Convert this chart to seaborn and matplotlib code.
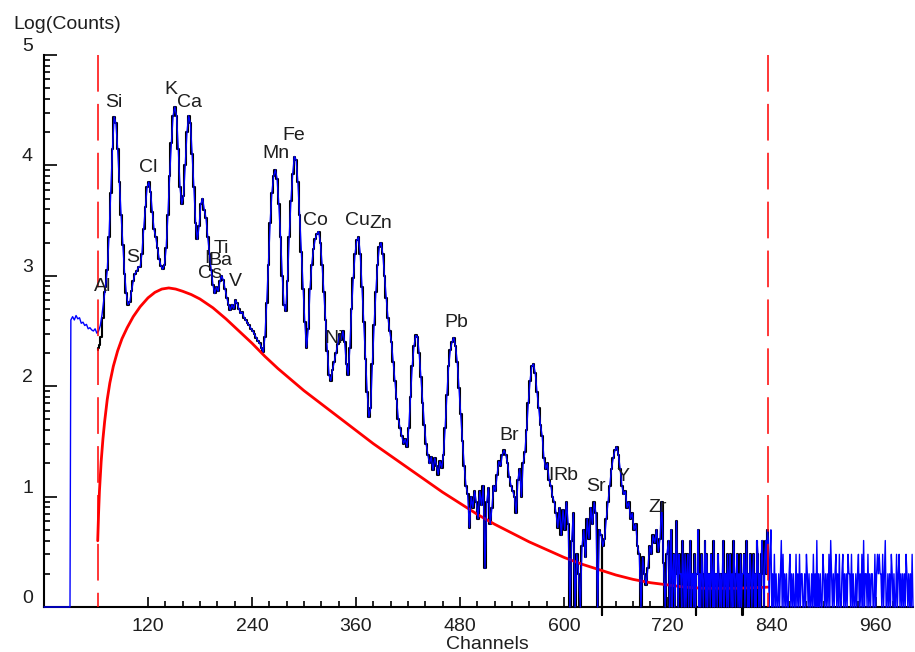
import numpy as np
import matplotlib
matplotlib.use("Agg")
import matplotlib.pyplot as plt
import seaborn as sns

# ---------------------------------------------------------------------------
# Spectrum data (log10 of counts per channel)
# ---------------------------------------------------------------------------
# channels 0..30 carry no counts
empty_ch = [0, 30]
empty_log = [0.0, 0.0]

# measured spectrum, odd channels 31, 33, ..., 719
spec_start = 31
spec_step = 2
spec_log = [
    2.60, 2.63, 2.60, 2.64, 2.61, 2.62, 2.57, 2.58, 2.55, 2.56,   # 31-49
    2.52, 2.53, 2.51, 2.50, 2.52, 2.48, 2.50, 2.55, 2.65, 2.78,   # 51-69
    2.90, 3.05, 3.35, 3.75, 4.15, 4.44, 4.38, 4.15, 3.85, 3.55,   # 71-89
    3.28, 3.02, 2.84, 2.74, 2.76, 2.86, 2.95, 3.02, 3.04, 3.08,   # 91-109
    3.08, 3.20, 3.42, 3.62, 3.80, 3.85, 3.76, 3.58, 3.42, 3.35,   # 111-129
    3.25, 3.15, 3.09, 3.06, 3.10, 3.25, 3.55, 3.90, 4.20, 4.45,   # 131-149
    4.53, 4.45, 4.15, 3.80, 3.65, 3.72, 4.00, 4.30, 4.45, 4.38,   # 151-169
    4.10, 3.80, 3.48, 3.33, 3.45, 3.65, 3.70, 3.60, 3.52, 3.35,   # 171-189
    3.20, 3.05, 2.92, 2.84, 2.90, 2.86, 2.95, 3.00, 2.96, 2.88,   # 191-209
    2.80, 2.74, 2.69, 2.74, 2.70, 2.78, 2.75, 2.70, 2.66, 2.67,   # 211-229
    2.62, 2.60, 2.57, 2.55, 2.52, 2.50, 2.47, 2.44, 2.41, 2.39,   # 231-249
    2.35, 2.31, 2.45, 2.75, 3.10, 3.48, 3.75, 3.90, 3.96, 3.88,   # 251-269
    3.65, 3.35, 3.00, 2.74, 2.68, 2.95, 3.35, 3.68, 3.92, 4.08,   # 271-289
    4.05, 3.85, 3.55, 3.22, 2.88, 2.58, 2.35, 2.52, 2.88, 3.10,   # 291-309
    3.24, 3.33, 3.38, 3.40, 3.30, 3.10, 2.85, 2.60, 2.32, 2.10,   # 311-329
    2.05, 2.15, 2.22, 2.30, 2.38, 2.47, 2.42, 2.50, 2.40, 2.20,   # 331-349
    2.10, 2.35, 2.70, 2.98, 3.20, 3.32, 3.35, 3.20, 2.90, 2.58,   # 351-369
    2.25, 1.95, 1.72, 1.80, 2.20, 2.55, 2.85, 3.10, 3.26, 3.30,   # 371-389
    3.20, 3.00, 2.80, 2.62, 2.50, 2.40, 2.22, 2.05, 1.88, 1.70,   # 391-409
    1.62, 1.55, 1.48, 1.52, 1.45, 1.62, 1.90, 2.18, 2.36, 2.46,   # 411-429
    2.45, 2.30, 2.08, 1.85, 1.65, 1.48, 1.38, 1.30, 1.36, 1.24,   # 431-449
    1.35, 1.28, 1.20, 1.32, 1.26, 1.38, 1.62, 1.92, 2.18, 2.33,   # 451-469
    2.40, 2.44, 2.36, 2.22, 1.98, 1.75, 1.50, 1.28, 1.10, 1.02,   # 471-489
    0.72, 1.00, 0.90, 1.05, 0.95, 0.80, 1.05, 0.92, 1.10, 0.35,   # 491-509
    0.95, 1.08, 0.75, 0.90, 1.10, 1.05, 1.20, 1.32, 1.28, 1.38,   # 511-529
    1.42, 1.38, 1.30, 1.18, 1.10, 1.05, 1.00, 0.85, 1.15, 1.25,   # 531-549
    1.00, 1.30, 1.40, 1.60, 1.85, 2.05, 2.18, 2.20, 2.12, 1.95,   # 551-569
    1.80, 1.65, 1.55, 1.35, 1.25, 1.30, 1.15, 1.10, 1.00, 0.95,   # 571-589
    0.85, 0.72, 0.90, 0.65, 0.88, 0.70, 0.95, 0.75, 0.00, 0.60,   # 591-609
    0.85, 0.00, 0.48, 0.30, 0.00, 0.55, 0.70, 0.45, 0.80, 0.62,   # 611-629
    0.90, 0.75, 0.95, 0.85, 0.00, 0.70, 0.65, 0.55, 0.62, 0.80,   # 631-649
    0.95, 1.10, 1.25, 1.35, 1.42, 1.45, 1.38, 1.25, 1.10, 1.02,   # 651-669
    1.05, 0.90, 0.95, 0.80, 0.85, 0.70, 0.75, 0.55, 0.48, 0.00,   # 671-689
    0.45, 0.30, 0.20, 0.35, 0.55, 0.48, 0.65, 0.58, 0.70, 0.50,   # 691-709
    0.62, 0.95, 0.40, 0.00, 0.48,                                 # 711-719
]

# raw counts in the high-energy tail, one per channel from 721 on
tail_start = 721
tail_counts = [
    4, 0, 2, 5, 1, 2, 3, 0, 2, 6, 2, 0, 3, 2, 2, 0, 4, 2, 1, 3,   # 721-740
    0, 2, 3, 1, 2, 4, 0, 2, 2, 0, 3, 1, 2, 2, 5, 0, 2, 1, 3, 2,   # 741-760
    0, 2, 4, 1, 3, 0, 2, 2, 1, 3, 2, 0, 4, 0, 2, 2, 1, 3, 2, 0,   # 761-780
    2, 1, 2, 4, 0, 2, 2, 0, 3, 1, 2, 3, 0, 2, 1, 4, 2, 0, 2, 3,   # 781-800
    1, 2, 0, 3, 0, 2, 2, 3, 0, 2, 4, 1, 2, 0, 3, 2, 0, 2, 3, 0,   # 801-820
    2, 0, 4, 3, 1, 2, 0, 3, 4, 2, 0, 3, 4, 2, 5, 4, 0, 3, 5, 0,   # 821-840
    2, 0, 3, 0, 2, 0, 1, 2, 0, 2, 4, 0, 3, 0, 2, 0, 2, 0, 1, 2,   # 841-860
    3, 0, 2, 0, 2, 0, 1, 3, 0, 2, 0, 3, 0, 2, 2, 0, 1, 2, 0, 3,   # 861-880
    2, 0, 2, 0, 1, 2, 0, 3, 0, 2, 0, 4, 0, 2, 0, 2, 0, 1, 3, 2,   # 881-900
    0, 2, 0, 2, 0, 3, 0, 4, 2, 0, 2, 0, 2, 3, 0, 2, 0, 3, 0, 1,   # 901-920
    2, 3, 0, 2, 0, 2, 0, 3, 2, 2, 0, 3, 0, 2, 0, 1, 2, 0, 2, 3,   # 921-940
    0, 2, 0, 3, 0, 4, 0, 2, 2, 0, 3, 0, 2, 0, 2, 2, 0, 1, 3, 0,   # 941-960
    2, 3, 2, 3, 2, 2, 0, 3, 0, 2, 4, 0, 0, 2, 0, 2, 0, 3, 2, 0,   # 961-980
    2, 0, 1, 3, 0, 2, 3, 0, 2, 0, 2, 0, 2, 0, 3, 2, 0, 2, 0, 2,   # 981-1000
    0, 3, 0,                                                      # 1001-1003
]

# fitted spectrum: leading edge at the start of the region of interest
fit_lead_ch = [62, 63, 64, 66, 68, 70]
fit_lead_log = [2.33, 2.35, 2.37, 2.45, 2.62, 2.85]
# channels where the fit dips just below zero
fit_dip_ch = [644, 752, 806]
fit_dip_log = [-0.07, -0.07, -0.07]

# continuum background
bg_ch = [62, 63, 64, 66, 68, 70, 73, 76, 80, 85, 90, 96, 103, 111, 120, 128,
         136, 144, 152, 160, 170, 180, 195, 210, 225, 240, 255, 270, 285, 300,
         320, 340, 360, 380, 400, 420, 440, 460, 480, 500, 520, 540, 560, 580,
         600, 620, 640, 660, 680, 700, 720, 740, 760, 780, 800, 820, 836]
bg_log = [0.60, 0.85, 1.05, 1.32, 1.52, 1.68, 1.88, 2.03, 2.18, 2.32, 2.43,
          2.53, 2.63, 2.72, 2.80, 2.85, 2.88, 2.89, 2.88, 2.86, 2.83, 2.79,
          2.71, 2.61, 2.50, 2.39, 2.27, 2.16, 2.06, 1.96, 1.84, 1.72, 1.60,
          1.48, 1.37, 1.26, 1.15, 1.04, 0.94, 0.84, 0.75, 0.67, 0.59, 0.52,
          0.45, 0.39, 0.34, 0.29, 0.25, 0.22, 0.20, 0.18, 0.17, 0.17, 0.17,
          0.175, 0.18]

# region of interest limits
roi_bounds = [62, 836]

# element labels (name, channel, log counts)
elem_names = ["Al", "Si", "S", "Cl", "K", "Ca", "I", "Ba", "Ti", "Cs", "V",
              "Mn", "Fe", "Co", "Ni", "Cu", "Zn", "Pb", "Br", "I", "Rb",
              "Sr", "Y", "Zr"]
elem_ch = [68, 81, 102.5, 120, 146.5, 167.5, 188.5, 203, 205, 191.5, 220.5,
           267.5, 288.5, 313, 334.5, 361.5, 389, 475.5, 536.5, 585, 602.5,
           637, 668, 708.5]
elem_log = [2.90, 4.57, 3.17, 3.98, 4.69, 4.57, 3.16, 3.14, 3.25, 3.02, 2.95,
            4.11, 4.27, 3.50, 2.43, 3.50, 3.47, 2.58, 1.55, 1.19, 1.19,
            1.09, 1.18, 0.90]

x_major = [120, 240, 360, 480, 600, 720, 840, 960]
x_major_labels = ["120", "240", "360", "480", "600", "720", "840", "960"]
y_major = [0, 1, 2, 3, 4, 5]
y_major_labels = ["0", "1", "2", "3", "4", "5"]

# ---------------------------------------------------------------------------
# Assemble the series
# ---------------------------------------------------------------------------
spec_ch = spec_start + spec_step * np.arange(len(spec_log))
tail_ch = tail_start + np.arange(len(tail_counts))
tail_log = np.log10(np.maximum(np.array(tail_counts, dtype=float), 1.0))

meas_ch = np.concatenate([empty_ch, spec_ch, tail_ch])
meas_log = np.concatenate([empty_log, spec_log, tail_log])

in_roi = (meas_ch > fit_lead_ch[-1]) & (meas_ch <= roi_bounds[1])
fit_ch = np.concatenate([fit_lead_ch, meas_ch[in_roi], fit_dip_ch])
fit_log = np.concatenate([fit_lead_log, meas_log[in_roi], fit_dip_log])
order = np.argsort(fit_ch, kind="stable")
fit_ch, fit_log = fit_ch[order], fit_log[order]

# ---------------------------------------------------------------------------
# Figure
# ---------------------------------------------------------------------------
sns.set_theme(style="ticks")
plt.rcParams["font.family"] = ["Liberation Sans", "DejaVu Sans"]
text_color = "#1e1e1e"

fig = plt.figure(figsize=(9.15, 6.52), dpi=100)
ax = fig.add_axes([44 / 915, 45 / 652, 869 / 915, 552 / 652])
ax.set_facecolor("white")

sns.lineplot(x=fit_ch, y=fit_log, ax=ax, color="black", lw=1.5,
             drawstyle="steps-mid", estimator=None, sort=False,
             zorder=2, clip_on=False)
sns.lineplot(x=bg_ch, y=bg_log, ax=ax, color="#ff0000", lw=2.0,
             estimator=None, sort=False, zorder=2.6)
sns.lineplot(x=meas_ch, y=meas_log, ax=ax, color="#0000ff", lw=1.0,
             estimator=None, sort=False, zorder=3, clip_on=False)

for b in roi_bounds:
    ax.plot([b, b], [5, 0], color="#ff0000", lw=1.1,
            linestyle=(0, (24, 8)), zorder=4)

for name, c, v in zip(elem_names, elem_ch, elem_log):
    ax.text(c, v, name, ha="center", va="center", fontsize=14,
            color=text_color, zorder=6)

ax.set_xlim(0, 1003)
ax.set_ylim(0, 5)

ax.set_xticks(x_major)
ax.set_xticklabels(x_major_labels)
ax.set_xticks([c for c in range(120, 1003, 20) if c not in x_major], minor=True)
ax.set_yticks(y_major)
ax.set_yticklabels(y_major_labels)
ax.set_yticks([d + np.log10(k) for d in range(5) for k in range(2, 10)],
              minor=True)

ax.tick_params(which="both", direction="in", color="black", width=1.2,
               bottom=True, left=True, top=False, right=False)
ax.tick_params(axis="x", which="major", length=7, pad=8, labelsize=14,
               labelcolor=text_color)
ax.tick_params(axis="x", which="minor", length=4.5)
ax.tick_params(axis="y", which="major", length=9, pad=8, labelsize=14,
               labelcolor=text_color)
ax.tick_params(axis="y", which="minor", length=4.5)
for lbl in ax.get_yticklabels():
    lbl.set_verticalalignment("bottom")

sns.despine(ax=ax)
for side in ("left", "bottom"):
    ax.spines[side].set_linewidth(1.5)
    ax.spines[side].set_color("black")

ax.set_xlabel("")
ax.set_ylabel("")
fig.text(13 / 915, 1 - 29 / 652, "Log(Counts)", ha="left", va="baseline",
         fontsize=14, color=text_color)
fig.text(487 / 915, 1 - 636 / 652, "Channels", ha="center", va="top",
         fontsize=14, color=text_color)

fig.savefig("out.png", dpi=100, facecolor="white")
